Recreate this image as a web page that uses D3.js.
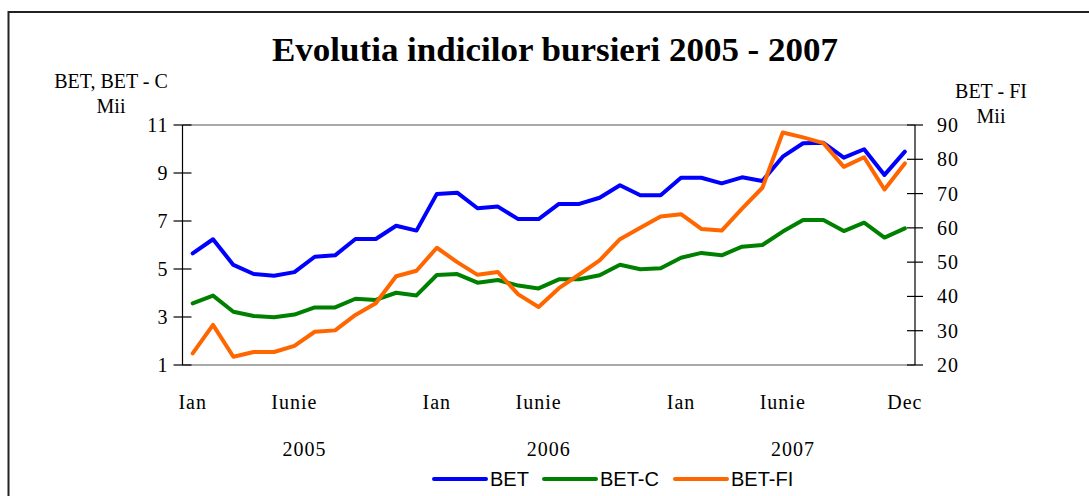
<!DOCTYPE html>
<html>
<head>
<meta charset="utf-8">
<script src="https://cdn.jsdelivr.net/npm/d3@7/dist/d3.min.js"></script>
<style>
  html, body { margin: 0; padding: 0; background: #fff; }
  svg { display: block; }
  .serif { font-family: "Liberation Serif", "Times New Roman", serif; fill: #000; }
  .sans { font-family: "Liberation Sans", Arial, sans-serif; fill: #000; }
</style>
</head>
<body>
<svg id="chart" width="1089" height="496"></svg>
<script>
// ---------- data ----------
const categories = [
  "2005-01","2005-02","2005-03","2005-04","2005-05","2005-06","2005-07","2005-08","2005-09","2005-10","2005-11","2005-12",
  "2006-01","2006-02","2006-03","2006-04","2006-05","2006-06","2006-07","2006-08","2006-09","2006-10","2006-11","2006-12",
  "2007-01","2007-02","2007-03","2007-04","2007-05","2007-06","2007-07","2007-08","2007-09","2007-10","2007-11","2007-12"
];
// BET (thousands of points, left axis)
const bet = [5.65, 6.24, 5.17, 4.79, 4.72, 4.87, 5.51, 5.57, 6.25, 6.25, 6.80, 6.60,
             8.13, 8.18, 7.53, 7.60, 7.08, 7.08, 7.71, 7.71, 7.97, 8.49, 8.07, 8.07,
             8.80, 8.80, 8.57, 8.82, 8.67, 9.68, 10.24, 10.26, 9.64, 9.99, 8.92, 9.89];
// BET-C (thousands of points, left axis)
const betC = [3.57, 3.89, 3.22, 3.04, 2.99, 3.10, 3.40, 3.40, 3.76, 3.71, 4.01, 3.90,
              4.75, 4.79, 4.43, 4.54, 4.31, 4.19, 4.57, 4.57, 4.74, 5.18, 4.99, 5.03,
              5.47, 5.67, 5.57, 5.93, 6.00, 6.56, 7.04, 7.04, 6.58, 6.93, 6.31, 6.69];
// BET-FI (thousands of points, right axis)
const betFI = [23.4, 31.7, 22.4, 23.8, 23.8, 25.6, 29.7, 30.1, 34.6, 38.0, 45.9, 47.5,
               54.2, 50.0, 46.3, 47.1, 40.6, 36.9, 42.4, 46.4, 50.5, 56.7, 60.0, 63.3,
               64.0, 59.7, 59.2, 65.6, 71.7, 87.8, 86.4, 84.7, 77.8, 80.6, 71.2, 78.8];

const leftTicks = [1, 3, 5, 7, 9, 11];
const rightTicks = [20, 30, 40, 50, 60, 70, 80, 90];
const monthLabels = [
  {cat: "2005-01", label: "Ian"}, {cat: "2005-06", label: "Iunie"},
  {cat: "2006-01", label: "Ian"}, {cat: "2006-06", label: "Iunie"},
  {cat: "2007-01", label: "Ian"}, {cat: "2007-06", label: "Iunie"},
  {cat: "2007-12", label: "Dec"}
];
const years = ["2005", "2006", "2007"];
const seriesNames = ["BET", "BET-C", "BET-FI"];
const seriesColors = ["#0000FF", "#008000", "#FF6600"];
const title = "Evolutia indicilor bursieri 2005 - 2007";

// ---------- layout ----------
const svg = d3.select("#chart");
const plot = {left: 182.5, right: 915, top: 125, bottom: 365};

const x = d3.scalePoint().domain(categories).range([plot.left, plot.right]).padding(0.5);
const yL = d3.scaleLinear().domain([1, 11]).range([plot.bottom, plot.top]);
const yR = d3.scaleLinear().domain([20, 90]).range([plot.bottom, plot.top]);

// outer frame
svg.append("path")
  .attr("d", "M8.5,496 V12 H1089")
  .attr("fill", "none").attr("stroke", "#222").attr("stroke-width", 2);

// title
svg.append("text").attr("class", "serif")
  .attr("x", 555).attr("y", 61)
  .attr("text-anchor", "middle")
  .attr("font-size", 34).attr("font-weight", "bold")
  .attr("textLength", 566).attr("lengthAdjust", "spacingAndGlyphs")
  .text(title);

// axis titles
svg.append("text").attr("class", "serif").attr("x", 111).attr("y", 88)
  .attr("text-anchor", "middle").attr("font-size", 20).text("BET, BET - C");
svg.append("text").attr("class", "serif").attr("x", 111).attr("y", 113)
  .attr("text-anchor", "middle").attr("font-size", 20).text("Mii");
svg.append("text").attr("class", "serif").attr("x", 991).attr("y", 98)
  .attr("text-anchor", "middle").attr("font-size", 20).text("BET - FI");
svg.append("text").attr("class", "serif").attr("x", 991).attr("y", 123)
  .attr("text-anchor", "middle").attr("font-size", 20).text("Mii");

// plot top & bottom gray lines
svg.append("line").attr("x1", plot.left).attr("x2", plot.right)
  .attr("y1", yL(11)).attr("y2", yL(11)).attr("stroke", "#8c8c8c").attr("stroke-width", 1.5);
svg.append("line").attr("x1", plot.left).attr("x2", plot.right)
  .attr("y1", yL(1)).attr("y2", yL(1)).attr("stroke", "#8c8c8c").attr("stroke-width", 1.5);

// left axis
const gL = svg.append("g");
gL.append("line").attr("x1", plot.left).attr("x2", plot.left)
  .attr("y1", yL(11)).attr("y2", yL(1)).attr("stroke", "#000").attr("stroke-width", 1.2);
gL.selectAll("line.tick").data(leftTicks).join("line").attr("class", "tick")
  .attr("x1", plot.left - 9).attr("x2", plot.left + 9)
  .attr("y1", d => yL(d)).attr("y2", d => yL(d))
  .attr("stroke", "#000").attr("stroke-width", 1.2);
gL.selectAll("text").data(leftTicks).join("text").attr("class", "serif")
  .attr("x", plot.left - 14).attr("y", d => yL(d)).attr("dy", "0.35em")
  .attr("text-anchor", "end").attr("font-size", 20).attr("letter-spacing", 1)
  .text(d => d);

// right axis
const gR = svg.append("g");
gR.append("line").attr("x1", plot.right).attr("x2", plot.right)
  .attr("y1", yR(90)).attr("y2", yR(20)).attr("stroke", "#000").attr("stroke-width", 1.2);
gR.selectAll("line.tick").data(rightTicks).join("line").attr("class", "tick")
  .attr("x1", plot.right - 8).attr("x2", plot.right + 8)
  .attr("y1", d => yR(d)).attr("y2", d => yR(d))
  .attr("stroke", "#000").attr("stroke-width", 1.2);
gR.selectAll("text").data(rightTicks).join("text").attr("class", "serif")
  .attr("x", plot.right + 22).attr("y", d => yR(d)).attr("dy", "0.35em")
  .attr("text-anchor", "start").attr("font-size", 20).attr("letter-spacing", 1)
  .text(d => d);

// x labels
svg.selectAll("text.month").data(monthLabels).join("text").attr("class", "serif month")
  .attr("x", d => x(d.cat)).attr("y", 409)
  .attr("text-anchor", "middle").attr("font-size", 20).attr("letter-spacing", 1)
  .text(d => d.label);
svg.selectAll("text.year").data(years).join("text").attr("class", "serif year")
  .attr("x", d => (x(d + "-01") + x(d + "-12")) / 2).attr("y", 456)
  .attr("text-anchor", "middle").attr("font-size", 20).attr("letter-spacing", 1)
  .text(d => d);

// lines
const series = [
  {name: seriesNames[0], values: bet, y: yL, color: seriesColors[0]},
  {name: seriesNames[1], values: betC, y: yL, color: seriesColors[1]},
  {name: seriesNames[2], values: betFI, y: yR, color: seriesColors[2]}
];
series.forEach(s => {
  const line = d3.line().x((d, i) => x(categories[i])).y(d => s.y(d));
  svg.append("path").datum(s.values)
    .attr("d", line)
    .attr("fill", "none").attr("stroke", s.color)
    .attr("stroke-width", 4).attr("stroke-linejoin", "round").attr("stroke-linecap", "round");
});

// legend
const legendX = [434, 544, 675];
const lg = svg.append("g");
series.forEach((s, i) => {
  lg.append("line").attr("x1", legendX[i]).attr("x2", legendX[i] + 52)
    .attr("y1", 479).attr("y2", 479)
    .attr("stroke", s.color).attr("stroke-width", 4).attr("stroke-linecap", "round");
  lg.append("text").attr("class", "sans")
    .attr("x", legendX[i] + 56).attr("y", 486)
    .attr("font-size", 20).text(s.name);
});
</script>
</body>
</html>
